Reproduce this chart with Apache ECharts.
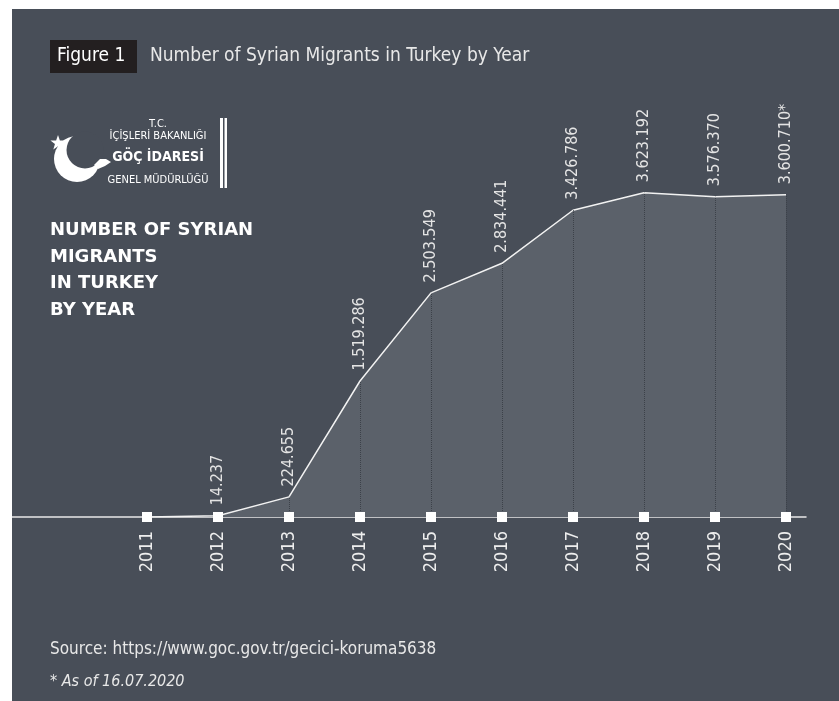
<!DOCTYPE HTML>
<html><head>
<meta charset="utf-8">
<title>Number of Syrian Migrants in Turkey by Year</title>
<script src="https://cdn.jsdelivr.net/npm/echarts@6/dist/echarts.min.js"></script>
<style>
body { margin:0; background:#ffffff; }
#main { position:absolute; left:12px; top:9px; width:827px; height:692px; }
</style>
</head>
<body>
<div id="main"></div>

<script type="text/javascript">
// data
var years = [2011, 2012, 2013, 2014, 2015, 2016, 2017, 2018, 2019, 2020];
var migrants = [0, 14237, 224655, 1519286, 2503549, 2834441, 3426786, 3623192, 3576370, 3600710];
var labelNotes = ['', '', '', '', '', '', '', '', '', '*'];

var narrow = "'DejaVu Sans Condensed', sans-serif";
var bg = '#484e58';

function fmt(v) {
    return String(v).replace(/\B(?=(\d{3})+(?!\d))/g, '.');
}

var lineData = [], dotData = [], dropLines = [];
for (var i = 0; i < years.length; i++) {
    lineData.push([years[i], migrants[i]]);
    dotData.push([years[i], 0]);
    if (migrants[i] > 0) {
        dropLines.push([{coord: [years[i], 0]}, {coord: [years[i], migrants[i]]}]);
    }
}

// star points for the logo
var star = [];
for (var k = 0; k < 10; k++) {
    var r = k % 2 ? 3.2 : 8;
    var a = -Math.PI / 2 + k * Math.PI / 5;
    star.push([46 + r * Math.cos(a), 134 + r * Math.sin(a)]);
}

var myChart = echarts.init(document.getElementById('main'));

var option = {
    backgroundColor: bg,
    animation: false,
    grid: { left: 0, right: 33, top: 141, bottom: 184 },
    xAxis: {
        type: 'value',
        min: 2011 - 135 / 71,
        max: 2020 + 20 / 71,
        axisLine: { show: true, onZero: false, lineStyle: { color: '#e8e8e8', width: 1.5 } },
        axisTick: { show: false },
        splitLine: { show: false },
        axisLabel: {
            customValues: years,
            formatter: function (v) { return String(v); },
            rotate: 90,
            margin: 14,
            color: '#eeeeee',
            fontFamily: narrow,
            fontSize: 18
        }
    },
    yAxis: {
        type: 'value',
        min: 0,
        max: 4100000,
        show: false
    },
    series: [
        {
            type: 'line',
            data: lineData,
            symbol: 'circle',
            symbolSize: 1,
            showSymbol: true,
            itemStyle: { color: 'rgba(0,0,0,0)' },
            lineStyle: { color: '#f2f2f2', width: 1.5 },
            areaStyle: { color: '#5b616a', opacity: 1 },
            label: {
                show: true,
                position: 'top',
                rotate: 90,
                distance: 10,
                align: 'left',
                verticalAlign: 'middle',
                color: '#e4e4e4',
                fontFamily: narrow,
                fontSize: 16,
                formatter: function (p) {
                    if (p.dataIndex === 0) return '';
                    return fmt(p.value[1]) + labelNotes[p.dataIndex];
                }
            },
            markLine: {
                silent: true,
                symbol: 'none',
                label: { show: false },
                lineStyle: { color: '#3c4149', type: 'dotted', width: 1 },
                data: dropLines
            },
            z: 2
        },
        {
            type: 'scatter',
            data: dotData,
            symbol: 'rect',
            symbolSize: 10,
            itemStyle: { color: '#ffffff', opacity: 1 },
            z: 5
        }
    ],
    graphic: [
        { type: 'rect', shape: { x: 38, y: 31, width: 87, height: 33 }, style: { fill: '#231f20' } },
        { type: 'text', x: 45, y: 47.5, style: { text: 'Figure 1', fill: '#ffffff', font: '19px ' + narrow, verticalAlign: 'middle' } },
        { type: 'text', x: 138, y: 47.5, style: { text: 'Number of Syrian Migrants in Turkey by Year', fill: '#e8e8e8', font: '19px ' + narrow, verticalAlign: 'middle' } },

        // logo
        { type: 'polygon', shape: { points: star }, style: { fill: '#ffffff' } },
        { type: 'circle', shape: { cx: 65, cy: 150, r: 23 }, style: { fill: '#ffffff' } },
        { type: 'circle', shape: { cx: 73, cy: 141, r: 18.5 }, style: { fill: bg } },
        { type: 'polygon', shape: { points: [[82, 156], [88, 150], [94, 150], [99, 153], [93, 157], [86, 160]] }, style: { fill: '#ffffff' } },
        { type: 'text', x: 146, y: 115, style: { text: 'T.C.', fill: '#ffffff', font: '11px ' + narrow, align: 'center', verticalAlign: 'middle' } },
        { type: 'text', x: 146, y: 127, style: { text: 'İÇİŞLERİ BAKANLIĞI', fill: '#ffffff', font: '11px ' + narrow, align: 'center', verticalAlign: 'middle' } },
        { type: 'text', x: 146, y: 148, style: { text: 'GÖÇ İDARESİ', fill: '#ffffff', font: 'bold 14px ' + narrow, align: 'center', verticalAlign: 'middle' } },
        { type: 'text', x: 146, y: 171, style: { text: 'GENEL MÜDÜRLÜĞÜ', fill: '#ffffff', font: '11px ' + narrow, align: 'center', verticalAlign: 'middle' } },
        { type: 'rect', shape: { x: 208, y: 109, width: 3, height: 70 }, style: { fill: '#ffffff' } },
        { type: 'rect', shape: { x: 212.5, y: 109, width: 2.5, height: 70 }, style: { fill: '#ffffff' } },

        // side heading
        { type: 'text', x: 38, y: 208, style: { text: 'NUMBER OF SYRIAN\nMIGRANTS\nIN TURKEY\nBY YEAR', fill: '#ffffff', font: 'bold 18px "DejaVu Sans", sans-serif', lineHeight: 26.7 } },

        // source
        { type: 'text', x: 38, y: 641, style: { text: 'Source: https://www.goc.gov.tr/gecici-koruma5638', fill: '#e8e8e8', font: '17px ' + narrow, verticalAlign: 'middle' } },
        { type: 'text', x: 38, y: 673, style: { text: '* As of 16.07.2020', fill: '#e8e8e8', font: 'italic 16px ' + narrow, verticalAlign: 'middle' } }
    ]
};

myChart.setOption(option);
</script>
</body>
</html>
